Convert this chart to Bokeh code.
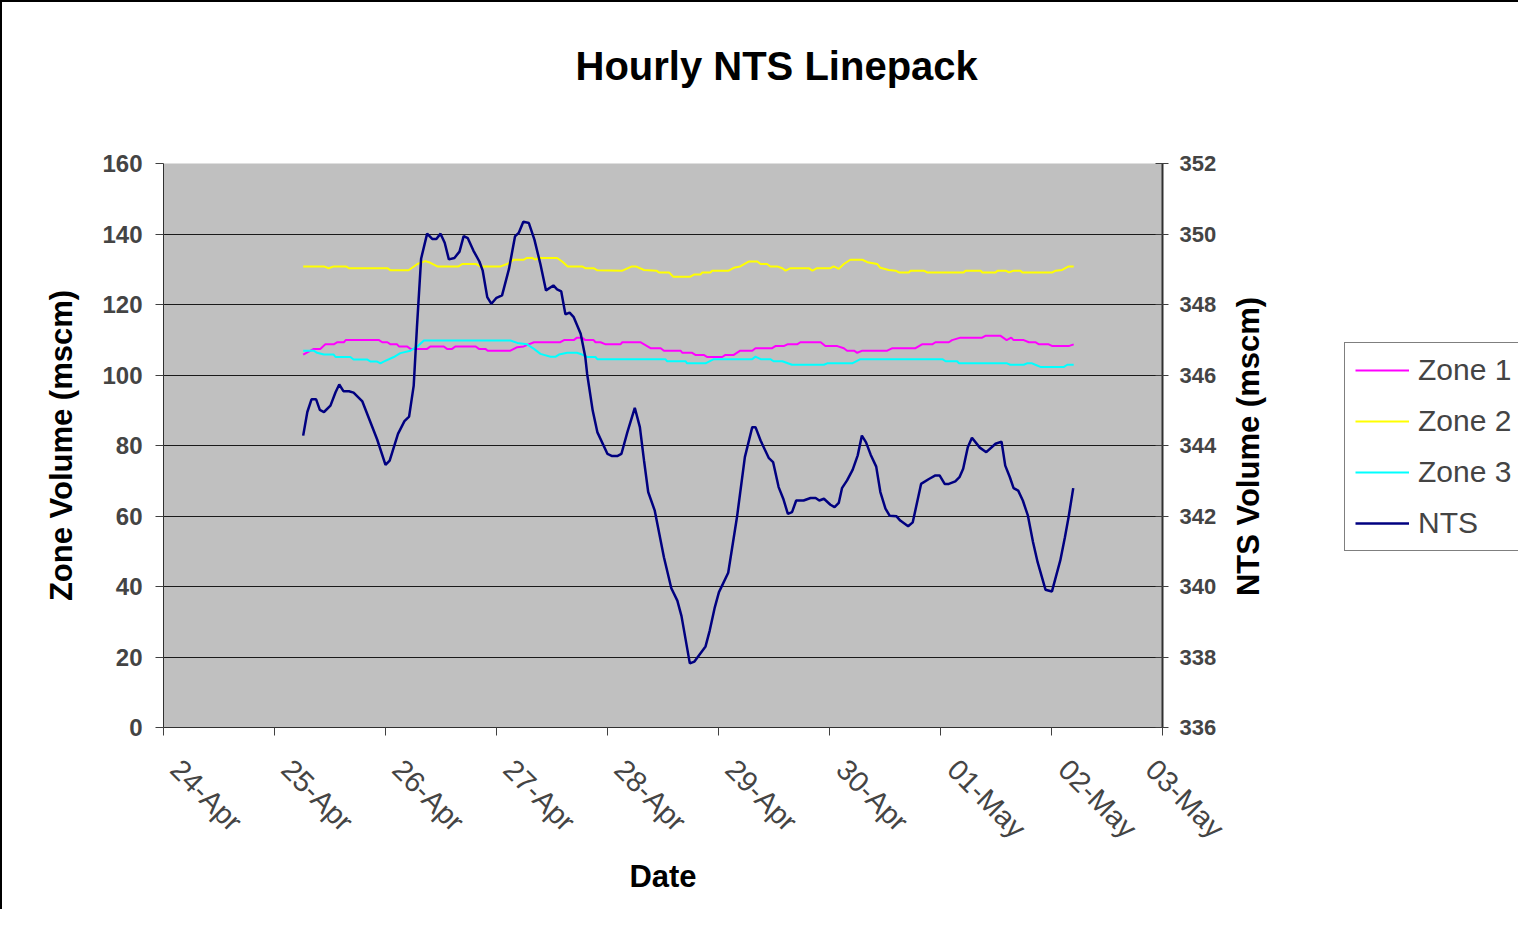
import math
from bokeh.plotting import figure
from bokeh.layouts import row
from bokeh.models import (Range1d, LinearAxis, FixedTicker, Legend, LegendItem,
                          ColumnDataSource, Label, Title)
from bokeh.embed import file_html
from bokeh.resources import INLINE

# ---------------- data ----------------
# x positions are hours since 24-Apr 00:00
date_tick_hours = [0, 24, 48, 72, 96, 120, 144, 168, 192, 216]
date_tick_labels = ["24-Apr", "25-Apr", "26-Apr", "27-Apr", "28-Apr",
                    "29-Apr", "30-Apr", "01-May", "02-May", "03-May"]
left_ticks = [0, 20, 40, 60, 80, 100, 120, 140, 160]
right_ticks = [336, 338, 340, 342, 344, 346, 348, 350, 352]

zone1_hours = [30.2, 32.5, 33.9, 35.0, 36.8, 37.6, 39.0, 39.4, 46.6, 47.3, 48.4, 49.1,
               50.5, 50.9, 52.7, 53.4, 57.0, 57.7, 60.6, 61.3, 62.4, 63.1, 67.5, 68.2,
               69.6, 70.1, 75.0, 76.5, 77.9, 80.1, 85.8, 86.6, 88.7, 89.4, 90.5, 91.2,
               93.0, 93.4, 94.5, 95.6, 98.8, 99.2, 103.1, 105.3, 107.5, 108.2, 111.8,
               112.2, 114.3, 115.0, 116.8, 117.6, 120.8, 121.5, 123.3, 124.7, 127.3,
               128.0, 131.6, 132.3, 134.1, 134.9, 137.0, 137.7, 142.1, 143.1, 145.7,
               147.1, 147.8, 149.3, 150.0, 151.1, 156.5, 157.6, 162.6, 164.0, 166.2,
               166.9, 169.8, 170.5, 172.3, 177.0, 177.7, 181.0, 182.3, 183.3, 183.8,
               186.0, 187.1, 188.5, 189.3, 191.4, 192.2, 195.7, 196.8]
zone1_values = [105.8, 107.4, 107.4, 108.7, 108.7, 109.3, 109.3, 109.9, 109.9, 109.3, 109.3, 108.7,
                108.7, 108.1, 108.1, 107.4, 107.4, 108.1, 108.1, 107.4, 107.4, 108.1, 108.1, 107.4,
                107.4, 106.9, 106.9, 107.9, 108.1, 109.3, 109.3, 109.9, 109.9, 110.6, 110.6, 109.9,
                109.9, 109.3, 109.3, 108.7, 108.7, 109.3, 109.3, 107.6, 107.6, 106.9, 106.9,
                106.3, 106.3, 105.7, 105.7, 105.1, 105.1, 105.7, 105.7, 106.9, 106.9,
                107.6, 107.6, 108.2, 108.2, 108.7, 108.7, 109.3, 109.3, 108.2, 108.2,
                107.6, 106.9, 106.9, 106.3, 106.9, 106.9, 107.6, 107.6, 108.7, 108.7,
                109.3, 109.3, 109.9, 110.6, 110.6, 111.1, 111.1, 109.9, 110.6, 109.9,
                109.9, 109.3, 109.3, 108.7, 108.7, 108.2, 108.2, 108.7]

zone2_hours = [30.2, 34.7, 35.7, 36.8, 39.4, 40.1, 48.4, 49.1, 53.0, 54.9, 56.6, 57.4,
               59.2, 63.8, 64.6, 67.5, 68.5, 72.9, 74.7, 75.7, 77.9, 78.6, 79.7, 80.4,
               81.1, 85.1, 86.2, 87.4, 90.5, 91.2, 93.0, 93.8, 99.2, 101.3, 102.1, 103.9,
               106.6, 107.1, 109.3, 110.2, 113.9, 114.7, 116.1, 116.5, 118.3, 118.6, 122.2,
               123.3, 124.7, 126.6, 128.4, 129.1, 130.5, 131.2, 132.7, 133.8, 134.5, 135.6,
               139.5, 140.3, 141.3, 144.2, 144.9, 146.0, 147.1, 148.5, 151.1, 152.2, 154.3,
               155.0, 156.8, 158.3, 159.0, 161.2, 161.5, 164.4, 165.1, 173.0, 173.4, 176.7,
               177.0, 179.9, 180.3, 182.1, 182.8, 183.8, 185.3, 185.7, 192.2, 192.9, 194.3,
               195.7, 196.8]
zone2_values = [130.8, 130.8, 130.3, 130.8, 130.8, 130.3, 130.3, 129.7, 129.7, 131.5, 132.3, 132.0,
                130.8, 130.8, 131.5, 131.5, 130.8, 130.8, 131.7, 132.7, 132.7, 133.2, 133.2, 132.7,
                133.2, 133.2, 132.2, 130.8, 130.8, 130.3, 130.3, 129.7, 129.6, 130.8, 130.8, 129.8,
                129.6, 129.1, 129.1, 127.9, 127.9, 128.5, 128.5, 129.1, 129.1, 129.6, 129.6,
                130.4, 130.8, 132.2, 132.2, 131.5, 131.5, 130.8, 130.8, 130.3, 129.6, 130.3,
                130.3, 129.6, 130.3, 130.3, 130.8, 130.1, 131.5, 132.7, 132.7, 132.0, 131.5,
                130.4, 129.8, 129.6, 129.1, 129.1, 129.6, 129.6, 129.1, 129.1, 129.6, 129.6,
                129.1, 129.1, 129.6, 129.6, 129.1, 129.6, 129.6, 129.1, 129.1, 129.6, 129.8,
                130.8, 130.8]

zone3_hours = [30.2, 32.5, 33.2, 34.7, 36.8, 37.2, 40.4, 41.1, 44.0, 44.8, 46.2, 46.9, 47.6,
               49.8, 51.2, 53.4, 54.9, 56.3, 75.0, 76.5, 78.6, 80.1, 81.5, 83.7, 84.8, 85.5,
               87.3, 89.4, 90.5, 91.6, 93.4, 93.8, 108.5, 108.9, 112.9, 113.2, 117.2, 119.0,
               127.3, 128.0, 129.1, 131.2, 131.9, 133.8, 135.9, 142.8, 143.5, 148.9, 150.7,
               168.4, 169.1, 171.6, 172.0, 182.4, 183.1, 186.0, 186.7, 187.8, 188.5, 189.6,
               194.7, 195.4, 196.8]
zone3_values = [106.9, 106.9, 106.3, 105.8, 105.8, 105.1, 105.1, 104.4, 104.4, 103.8, 103.8, 103.3, 103.8,
                105.1, 106.2, 106.9, 108.1, 109.8, 109.8, 109.1, 108.7, 107.4, 106.0, 105.2, 105.2, 105.8,
                106.3, 106.3, 105.8, 105.1, 105.1, 104.5, 104.5, 103.9, 103.9, 103.3, 103.3, 104.5,
                104.5, 105.2, 104.5, 104.5, 103.9, 103.9, 102.9, 102.9, 103.3, 103.3, 104.5,
                104.5, 103.9, 103.9, 103.3, 103.3, 102.9, 102.9, 103.3, 103.3, 102.9, 102.3,
                102.3, 102.9, 102.9]

nts_hours = [30.2, 31.1, 32.0, 33.0, 33.8, 34.7, 36.1, 37.2, 38.0, 38.9, 40.1, 41.1, 43.0,
             44.6, 46.2, 48.0, 48.9, 50.7, 52.1, 53.1, 54.1, 54.8, 55.7, 57.0, 58.1, 59.0,
             59.9, 60.8, 61.7, 62.9, 64.0, 64.9, 65.8, 67.0, 68.3, 69.0, 70.0, 70.9, 72.0,
             73.2, 74.7, 76.0, 76.8, 77.8, 79.0, 80.2, 81.5, 82.7, 84.3, 85.1, 86.0, 86.9,
             87.8, 88.7, 90.2, 91.2, 91.6, 92.8, 93.8, 96.0, 97.0, 98.1, 99.0, 100.3, 101.9,
             103.0, 103.9, 104.8, 106.2, 108.2, 109.8, 111.1, 112.0, 113.8, 114.8, 117.2,
             118.1, 119.2, 120.1, 122.1, 124.0, 125.7, 127.3, 128.0, 129.1, 130.9, 131.8,
             133.0, 134.0, 135.0, 135.9, 136.8, 138.4, 139.9, 141.0, 141.8, 142.8, 144.2,
             145.1, 146.0, 146.7, 147.8, 149.0, 150.1, 151.0, 151.9, 152.9, 154.1, 155.0,
             156.1, 157.0, 158.5, 159.3, 161.0, 162.0, 163.8, 165.5, 166.9, 167.8, 168.9,
             169.8, 171.2, 172.1, 172.9, 173.9, 174.8, 176.5, 177.9, 179.9, 181.2, 182.0,
             183.0, 183.8, 184.8, 185.8, 186.9, 188.0, 189.0, 190.7, 192.1, 193.9, 194.9,
             195.7, 196.7]
nts_values = [344.28, 344.95, 345.31, 345.31, 345.01, 344.95, 345.13, 345.51, 345.73, 345.54,
              345.54, 345.50, 345.25, 344.71, 344.17, 343.45, 343.57, 344.33, 344.69, 344.82,
              345.70, 347.36, 349.30, 350.01, 349.86, 349.86, 350.01, 349.75, 349.28, 349.32,
              349.50, 349.94, 349.88, 349.53, 349.22, 348.97, 348.21, 348.02, 348.19, 348.26,
              349.01, 349.93, 350.03, 350.35, 350.31, 349.84, 349.14, 348.40, 348.54, 348.43,
              348.37, 347.72, 347.77, 347.64, 347.17, 346.51, 346.03, 344.99, 344.38, 343.76,
              343.70, 343.70, 343.76, 344.38, 345.07, 344.52, 343.57, 342.68, 342.16, 340.83,
              339.95, 339.60, 339.16, 337.82, 337.87, 338.30, 338.75, 339.41, 339.84, 340.39,
              341.97, 343.67, 344.52, 344.52, 344.14, 343.64, 343.53, 342.82, 342.49, 342.06,
              342.11, 342.44, 342.44, 342.51, 342.51, 342.44, 342.49, 342.32, 342.25, 342.37,
              342.79, 343.01, 343.31, 343.72, 344.28, 344.09, 343.74, 343.40, 342.68, 342.21,
              342.01, 341.99, 341.87, 341.71, 341.82, 342.91, 343.05, 343.15, 343.15, 342.91,
              342.91, 342.98, 343.10, 343.34, 343.95, 344.22, 343.94, 343.81, 344.05, 344.11,
              343.43, 343.10, 342.79, 342.72, 342.44, 342.01, 341.26, 340.69, 339.91, 339.86,
              340.74, 341.40, 341.97, 342.79]

series_names = ["Zone 1", "Zone 2", "Zone 3", "NTS"]
series_colors = ["#FF00FF", "#FFFF00", "#00FFFF", "#000080"]

FONT = "Liberation Sans"
X_END = 216
LABEL_SHIFT = 2.6   # Excel draws its rotated date labels a little right of each tick

# ---------------- main figure ----------------
p = figure(width=1230, height=909,
           x_range=Range1d(0, X_END), y_range=Range1d(0, 160),
           output_backend="svg", toolbar_location=None,
           min_border_left=161, min_border_right=70,
           min_border_top=161, min_border_bottom=184)
p.styles = {"border-left": "2px solid black", "border-top": "2px solid black"}
p.background_fill_color = "#C0C0C0"
p.border_fill_color = "white"
p.outline_line_color = None
p.extra_y_ranges = {"nts": Range1d(336, 352)}
p.extra_x_ranges = {"lbl": Range1d(-LABEL_SHIFT, X_END - LABEL_SHIFT)}

# title (with a blank spacer between it and the plot area)
p.title.text = "Hourly NTS Linepack"
p.title.align = "left"
p.title.offset = 412
p.title.standoff = 10
p.title.text_font = FONT
p.title.text_font_size = "40px"
p.title.text_font_style = "bold"
p.title.text_color = "black"
spacer = Title(text=" ", text_font_size="10px", standoff=58)
p.add_layout(spacer, "above")

# grid
p.xgrid.visible = False
p.ygrid.ticker = FixedTicker(ticks=left_ticks)
p.ygrid.grid_line_color = "#1a1a1a"
p.ygrid.grid_line_width = 1

# x axis: line and ticks only
xa = p.xaxis[0]
xa.ticker = FixedTicker(ticks=date_tick_hours)
xa.major_label_overrides = {h: "" for h in date_tick_hours}
xa.major_label_text_font_size = "1px"
xa.major_label_standoff = 0
xa.major_tick_in = 0
xa.major_tick_out = 8
xa.minor_tick_line_color = None
xa.axis_line_color = "#303030"
xa.major_tick_line_color = "#404040"

# x axis: date labels (last label kept inside the label range)
lbl_pos = [min(h, X_END - LABEL_SHIFT) for h in date_tick_hours]
xb = LinearAxis(x_range_name="lbl", ticker=FixedTicker(ticks=lbl_pos))
xb.major_label_overrides = {h: l for h, l in zip(lbl_pos, date_tick_labels)}
xb.major_label_orientation = -math.pi / 4
xb.major_label_text_font = FONT
xb.major_label_text_font_size = "29px"
xb.major_label_standoff = 29
xb.major_tick_in = 0
xb.major_tick_out = 0
xb.major_tick_line_color = None
xb.minor_tick_line_color = None
xb.axis_line_color = None
xb.axis_label = "Date"
xb.axis_label_text_font = FONT
xb.axis_label_text_font_size = "31px"
xb.axis_label_text_font_style = "bold"
xb.axis_label_text_color = "black"
xb.axis_label_standoff = 0
p.add_layout(xb, "below")

# left axis
ya = p.yaxis[0]
ya.ticker = FixedTicker(ticks=left_ticks)
ya.major_label_text_font = FONT
ya.major_label_text_font_size = "24px"
ya.major_label_text_font_style = "bold"
ya.major_label_standoff = 13
ya.major_tick_in = 0
ya.major_tick_out = 8
ya.minor_tick_line_color = None
ya.axis_line_color = "#303030"
ya.major_tick_line_color = "#404040"
ya.axis_label = "Zone Volume (mscm)"
ya.axis_label_text_font = FONT
ya.axis_label_text_font_size = "31px"
ya.axis_label_text_font_style = "bold"
ya.axis_label_text_color = "black"
ya.axis_label_standoff = 20

# right axis
ra = LinearAxis(y_range_name="nts", ticker=FixedTicker(ticks=right_ticks))
ra.major_label_text_font = FONT
ra.major_label_text_font_size = "22px"
ra.major_label_text_font_style = "bold"
ra.major_label_standoff = 11
ra.major_tick_in = 7
ra.major_tick_out = 6
ra.minor_tick_line_color = None
ra.axis_line_color = "#303030"
ra.axis_line_width = 2
ra.major_tick_line_color = "#404040"
p.add_layout(ra, "right")

# lines
renderers = []
for hrs, vals, col, rng in [
    (zone1_hours, zone1_values, series_colors[0], "default"),
    (zone2_hours, zone2_values, series_colors[1], "default"),
    (zone3_hours, zone3_values, series_colors[2], "default"),
    (nts_hours, nts_values, series_colors[3], "nts"),
]:
    src = ColumnDataSource(dict(x=hrs, y=vals))
    r = p.line("x", "y", source=src, line_color=col,
               line_width=2.5 if rng == "nts" else 2, y_range_name=rng)
    renderers.append(r)

# ---------------- right-hand panel: NTS axis title + legend ----------------
# (its plot area lines up with the main plot area: 564 px tall)
lg = figure(width=288, height=909, x_range=Range1d(0, 288), y_range=Range1d(0, 564),
            output_backend="svg", toolbar_location=None, min_border=0,
            x_axis_location=None, y_axis_location=None)
lg.styles = {"border-top": "2px solid black"}
lg.grid.visible = False
lg.outline_line_color = None
lg.background_fill_color = "white"
lg.border_fill_color = "white"

rlabel = Label(x=18, y=281, text="NTS Volume (mscm)", text_align="center",
               text_baseline="middle", angle=math.pi / 2, text_font=FONT,
               text_font_size="31px", text_font_style="bold", text_color="black")
lg.add_layout(rlabel)

key_renderers = []
for col in series_colors:
    key_renderers.append(lg.line([0.5], [0.5], line_color=col,
                                 line_width=2.5 if col == "#000080" else 2))

legend = Legend(items=[LegendItem(label=n, renderers=[r]) for n, r in zip(series_names, key_renderers)],
                location=(114, 176))
legend.label_text_font = FONT
legend.label_text_font_size = "30px"
legend.glyph_width = 54
legend.glyph_height = 34
legend.label_height = 34
legend.spacing = 17
legend.padding = 10
legend.margin = 0
legend.label_standoff = 9
legend.border_line_color = "black"
legend.border_line_width = 1
legend.background_fill_color = "white"
legend.background_fill_alpha = 1
lg.add_layout(legend)

layout = row(p, lg)
open("out.html", "w").write(file_html(layout, INLINE))
